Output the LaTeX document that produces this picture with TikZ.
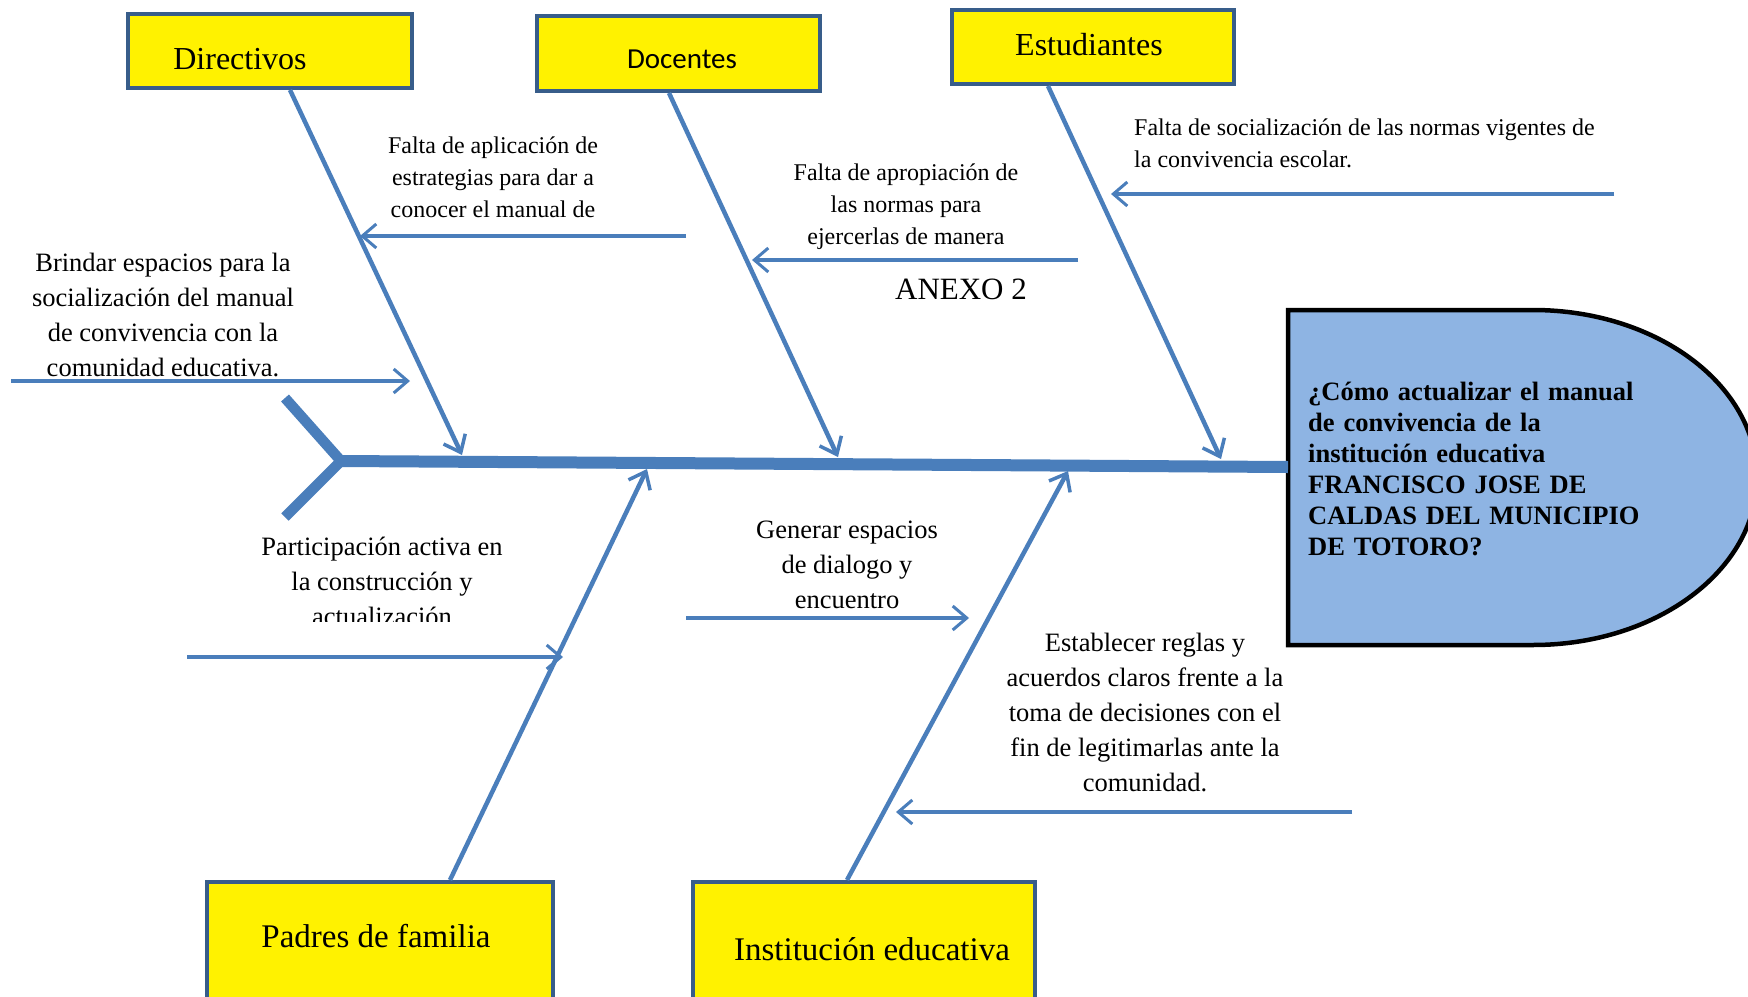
\documentclass[tikz,border=0pt]{standalone}
\usepackage{fontspec}
\setmainfont{Liberation Serif}
\newfontfamily\calibrifont{Carlito}
\usetikzlibrary{arrows.meta}

\definecolor{boneblue}{HTML}{4A7EBB}
\definecolor{boxedge}{HTML}{385D8A}
\definecolor{headfill}{HTML}{8EB4E3}

\tikzset{
  catbox/.style={draw=boxedge, fill=yellow, line width=4pt, inner sep=0pt},
  cattext/.style={inner sep=0pt, font=\fontsize{32}{38}\selectfont},
  spine/.style={draw=boneblue, line width=12pt},
  bone/.style={draw=boneblue, line width=4.5pt,
    -{Straight Barb[length=15pt, width=24pt, line width=3.5pt]}},
  cause/.style={draw=boneblue, line width=3.3pt,
    -{Straight Barb[length=14pt, width=24pt, line width=3pt]}},
  smalltext/.style={align=center, inner sep=0pt, font=\fontsize{24}{32}\selectfont},
  causetext/.style={align=center, inner sep=0pt, font=\fontsize{26.5}{35}\selectfont},
}

\begin{document}
\begin{tikzpicture}[x=1pt, y=-1pt]
  \clip (0,0) rectangle (1748,996);
  \fill[white] (0,0) rectangle (1748,996);

  % categorias
  \node[catbox, minimum width=284pt, minimum height=74pt] (directivos) at (270,51) {};
  \node[catbox, minimum width=283pt, minimum height=75pt] (docentes) at (678.5,53.5) {};
  \node[catbox, minimum width=282pt, minimum height=74pt] (estudiantes) at (1093,47) {};
  \node[catbox, minimum width=346pt, minimum height=146pt] (padres) at (380,955) {};
  \node[catbox, minimum width=342pt, minimum height=146pt] (institucion) at (864,955) {};

  \node[cattext] (directivos-t) at (240,59) {Directivos};
  \node[cattext, font=\calibrifont\fontsize{29}{35}\selectfont] (docentes-t) at (682,59) {Docentes};
  \node[cattext] (estudiantes-t) at (1089,45) {Estudiantes};
  \node[cattext, font=\fontsize{33}{40}\selectfont] (padres-t) at (376,936) {Padres de familia};
  \node[cattext, font=\fontsize{33}{40}\selectfont] (institucion-t) at (872,949) {Institución educativa};

  % cabeza
  \draw[fill=headfill, line width=4.5pt] (1288,310) -- (1533,310)
    arc[start angle=90, end angle=-90, x radius=224pt, y radius=167.5pt]
    -- (1288,645) -- cycle;
  \node[anchor=north west, align=left, text width=420pt, inner sep=0pt,
    font=\bfseries\fontsize{26.5}{31}\selectfont] (pregunta) at (1308,382)
    {¿Cómo actualizar el manual\\de convivencia de la\\institución educativa\\FRANCISCO JOSE DE\\CALDAS DEL MUNICIPIO\\DE TOTORO?};

  % espina
  \coordinate (tail) at (341,461);
  \coordinate (neck) at (1288,467);
  \draw[spine, line width=10.5pt] (285,398) -- (tail) -- (285,517);
  \draw[spine] (tail) -- (neck);

  \coordinate (s-dir) at (462,455);
  \coordinate (s-doc) at (838,457);
  \coordinate (s-est) at (1221,459);
  \coordinate (s-pad) at (647,469);
  \coordinate (s-ins) at (1068,471);

  \foreach \cat/\dx/\tip in {directivos/164pt/s-dir, docentes/134pt/s-doc, estudiantes/98pt/s-est}{
    \draw[bone] ([xshift=\dx]\cat.south west) -- (\tip);
  }
  \foreach \cat/\dx/\tip in {padres/245pt/s-pad, institucion/156pt/s-ins}{
    \draw[bone] ([xshift=\dx]\cat.north west) -- (\tip);
  }

  % causas
  \coordinate (a0) at (686,236);  \coordinate (a1) at (360,236);
  \coordinate (b0) at (1078,260); \coordinate (b1) at (752,260);
  \coordinate (c0) at (1614,194); \coordinate (c1) at (1111,194);
  \coordinate (d0) at (11,381);   \coordinate (d1) at (410,381);
  \coordinate (e0) at (187,657);  \coordinate (e1) at (563,657);
  \coordinate (f0) at (686,618);  \coordinate (f1) at (969,618);
  \coordinate (g0) at (1352,812); \coordinate (g1) at (896,812);
  \foreach \p in {a,b,c,d,e,f,g}{
    \draw[cause] (\p0) -- (\p1);
  }

  \node[smalltext] (aplicacion) at (493,177)
    {Falta de aplicación de\\estrategias para dar a\\conocer el manual de};
  \node[smalltext] (apropiacion) at (906,207)
    {Falta de apropiación de\\las normas para\\ejercerlas de manera};
  \node[smalltext, anchor=west, align=left] (socializacion) at (1134,143)
    {Falta de socialización de las normas vigentes de\\la convivencia escolar.};
  \node[causetext] (brindar) at (163,315)
    {Brindar espacios para la\\socialización del manual\\de convivencia con la\\comunidad educativa.};
  \begin{scope}
    \clip (150,500) rectangle (620,621);
    \node[causetext] (participacion) at (382,581)
      {Participación activa en\\la construcción y\\actualización};
  \end{scope}
  \node[causetext] (generar) at (847,565)
    {Generar espacios\\de dialogo y\\encuentro};
  \node[causetext] (establecer) at (1145,712)
    {Establecer reglas y\\acuerdos claros frente a la\\toma de decisiones con el\\fin de legitimarlas ante la\\comunidad.};
  \node[cattext, font=\fontsize{31}{37}\selectfont] (anexo) at (961,289) {ANEXO 2};
\end{tikzpicture}
\end{document}
